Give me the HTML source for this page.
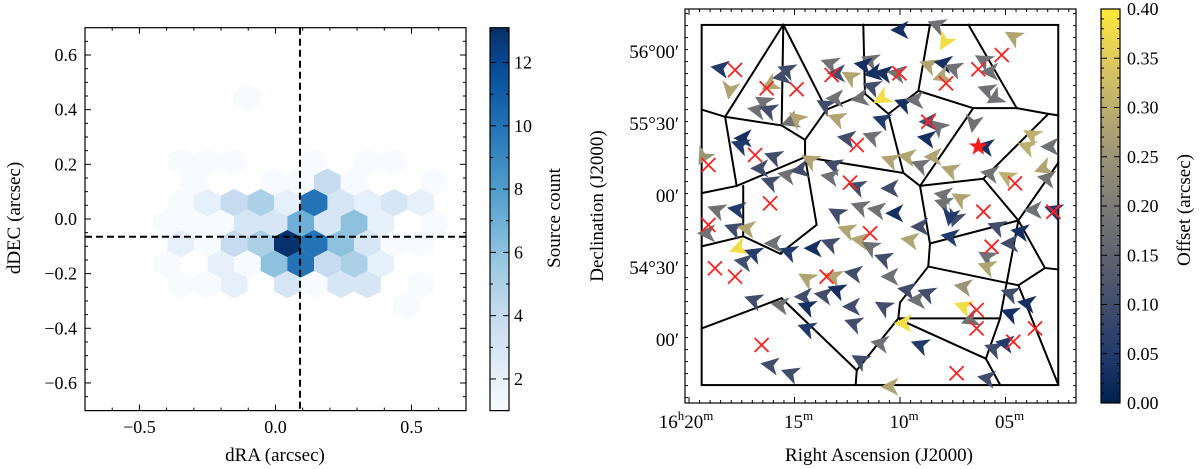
<!DOCTYPE html>
<html><head><meta charset="utf-8">
<style>
html,body{margin:0;padding:0;background:#fff;}
svg{display:block;font-family:"Liberation Serif","DejaVu Serif",serif;}
</style></head>
<body>
<svg id="fig" width="1200" height="469" viewBox="0 0 1200 469" xmlns="http://www.w3.org/2000/svg">
<defs>
<linearGradient id="blues" x1="0" y1="1" x2="0" y2="0">
<stop offset="0" stop-color="#f7fbff"/><stop offset="0.125" stop-color="#deebf7"/><stop offset="0.25" stop-color="#c6dbef"/><stop offset="0.375" stop-color="#9ecae1"/><stop offset="0.5" stop-color="#6baed6"/><stop offset="0.625" stop-color="#4292c6"/><stop offset="0.75" stop-color="#2171b5"/><stop offset="0.875" stop-color="#08519c"/><stop offset="1" stop-color="#08306b"/>
</linearGradient>
<linearGradient id="cividis" x1="0" y1="1" x2="0" y2="0">
<stop offset="0" stop-color="#00224e"/><stop offset="0.125" stop-color="#233a6c"/><stop offset="0.25" stop-color="#414d6b"/><stop offset="0.375" stop-color="#5f636e"/><stop offset="0.5" stop-color="#7c7b78"/><stop offset="0.625" stop-color="#9b9477"/><stop offset="0.75" stop-color="#bcaf6f"/><stop offset="0.875" stop-color="#dfcb5d"/><stop offset="1" stop-color="#fee838"/>
</linearGradient>
<clipPath id="clipL"><rect x="85" y="27.7" width="381" height="383"/></clipPath>
</defs>
<g id="left"></g>
<g id="right"></g>
</svg>
<script>
// ---------- LEFT PANEL DATA ----------
const hexX = [
 -0.348,-0.250,-0.152,-0.054,0.044,0.142,0.240,0.338,0.436,0.534,
 -0.397,-0.299,-0.201,-0.103,-0.005,0.093,0.191,0.289,0.387,0.583,
 -0.348,-0.250,-0.152,-0.054,0.044,0.142,0.240,0.338,0.436,0.534,
 -0.299,-0.005,0.093,0.191,0.289,0.583,
 -0.348,-0.250,-0.152,0.142,0.338,0.436,
 -0.103,
 -0.397,-0.201,-0.103,-0.005,0.093,0.191,0.289,0.387,
 -0.348,-0.250,-0.152,0.044,0.142,0.240,0.338,0.534,
 0.485];
const hexY = [
 -0.09,-0.09,-0.09,-0.09,-0.09,-0.09,-0.09,-0.09,-0.09,-0.09,
 -0.015,-0.015,-0.015,-0.015,-0.015,-0.015,-0.015,-0.015,-0.015,-0.015,
 0.06,0.06,0.06,0.06,0.06,0.06,0.06,0.06,0.06,0.06,
 0.135,0.135,0.135,0.135,0.135,0.135,
 0.21,0.21,0.21,0.21,0.21,0.21,
 0.44,
 -0.165,-0.165,-0.165,-0.165,-0.165,-0.165,-0.165,-0.165,
 -0.24,-0.24,-0.24,-0.24,-0.24,-0.24,-0.24,-0.24,
 -0.315];
const hexCount = [
 2,1,4,5,13,10,6,3,1,1,
 1,1,1,3,3,7,3,6,2,1,
 1,2,4,5,2,10,3,2,3,2,
 1,1,1,4,1,1,
 1,1,1,1,1,1,
 1,
 1,2,1,6,10,4,5,2,
 1,1,2,3,1,3,3,1,
 1];
const medianRA = 0.09, medianDEC = -0.065;
const leftXTicks = [-0.5,0.0,0.5];
const leftXTickLabels = ["\u22120.5","0.0","0.5"];
const leftYTicks = [0.6,0.4,0.2,0.0,-0.2,-0.4,-0.6];
const leftYTickLabels = ["0.6","0.4","0.2","0.0","\u22120.2","\u22120.4","\u22120.6"];
const countTicks = [2,4,6,8,10,12];
const countMin = 1, countMax = 13.1;

// ---------- RIGHT PANEL DATA (RA minutes past 16h, Dec degrees) ----------
const boxRA = [19.40, 2.50], boxDec = [56.188, 53.687];
const edgeRA1 = [15.53,15.53,15.53,11.74,11.66,11.66,8.58,9.13,9.13,6.76,6.53,4.47,2.97,6.53,2.97,6.05,6.05,10.55,9.84,9.84,13.48,14.50,15.61,14.50,18.29,18.29,14.50,17.74,17.74,17.43,17.43,15.69,15.69,15.61,15.61,12.05,13.95,10.00,10.00,10.08,10.08,8.66,8.58,8.58,8.66,4.39,3.13,3.13,4.39,4.39,5.26,5.93,5.93,10.00,4.39];
const edgeDec1 = [56.19,56.19,56.19,56.19,55.71,55.71,56.19,55.73,55.73,56.19,55.61,55.61,55.57,55.61,55.57,55.12,55.12,55.57,55.16,55.16,55.60,55.39,55.49,55.39,55.55,55.55,55.27,55.07,55.07,55.07,54.72,54.60,54.60,54.29,54.29,53.79,54.80,54.26,54.26,54.15,54.15,54.51,54.67,54.67,54.51,54.38,54.50,54.50,54.83,54.83,54.15,53.87,53.87,54.14,54.38];
const edgeRA2 = [18.29,15.61,13.48,11.66,13.48,10.55,9.13,10.55,6.53,4.47,4.47,2.97,2.50,9.05,6.05,9.05,4.39,9.84,9.05,14.50,14.50,15.61,18.29,14.50,19.40,17.74,13.95,14.50,19.40,17.43,19.40,17.43,15.61,19.40,12.05,12.10,15.69,8.66,10.08,12.05,5.26,8.58,9.05,4.39,4.39,3.13,2.50,4.39,2.50,5.26,5.93,5.26,5.93,5.93,2.50];
const edgeDec2 = [55.55,55.49,55.60,55.71,55.60,55.57,55.73,55.57,55.61,55.61,55.61,55.57,55.56,55.07,55.12,55.07,54.83,55.16,55.07,55.27,55.39,55.49,55.55,55.27,55.60,55.07,54.80,55.27,55.02,54.72,54.65,54.72,54.60,54.08,53.79,53.69,54.60,54.51,54.15,53.79,54.15,54.67,55.07,54.83,54.38,54.50,54.49,54.83,55.23,54.15,53.87,53.69,53.87,53.87,53.69];
const srcRA = [10.00,8.26,7.87,4.63,18.53,18.06,15.37,15.61,16.16,16.48,16.79,16.24,15.21,14.90,13.32,13.00,12.37,11.42,11.74,11.27,10.79,11.34,10.87,13.56,13.08,13.00,11.90,10.16,9.84,9.29,8.66,7.95,7.47,8.03,6.05,5.74,5.89,5.50,10.87,12.53,11.34,8.66,8.18,8.74,6.52,5.97,3.76,3.99,2.89,3.21,4.95,5.74,17.43,17.58,19.32,16.00,16.64,16.16,15.37,14.74,14.27,13.16,13.32,12.05,10.47,10.47,9.68,9.05,8.42,7.63,7.95,7.16,7.39,17.74,18.69,19.16,17.90,17.27,17.66,16.95,17.43,16.00,15.29,13.00,11.90,11.11,10.24,12.53,11.90,11.42,10.79,9.53,9.05,7.95,7.63,7.63,5.42,4.79,5.89,5.89,4.31,2.73,3.68,3.05,14.42,13.16,12.21,10.47,16.95,15.69,14.58,14.42,13.63,13.00,12.29,12.21,10.79,9.68,9.21,8.74,7.00,7.00,6.68,4.79,3.99,4.79,9.84,14.42,10.95,9.05,11.90,16.16,15.21,10.47,5.89,5.58,5.03,13.32,14.11];
const srcDec = [56.153,56.188,56.072,56.107,55.887,55.736,55.875,55.829,55.771,55.655,55.597,55.597,55.516,55.539,55.921,55.852,55.829,55.944,55.910,55.852,55.852,55.759,55.678,55.632,55.678,55.539,55.678,55.852,55.644,55.667,55.910,55.921,55.887,55.829,55.944,55.863,55.736,55.678,55.528,55.401,55.412,55.516,55.482,55.401,55.505,55.343,55.424,55.343,55.343,55.192,55.134,55.157,55.401,55.354,55.273,55.273,55.192,55.099,55.146,55.181,55.250,55.215,55.134,55.065,55.053,55.250,55.273,55.215,55.273,55.181,55.007,54.984,54.845,54.907,54.903,54.741,54.775,54.775,54.637,54.602,54.544,54.671,54.613,54.880,54.926,54.903,54.880,54.764,54.694,54.648,54.567,54.694,54.787,54.949,54.856,54.718,54.787,54.671,54.579,54.509,54.752,54.903,54.903,55.123,54.428,54.440,54.463,54.440,54.278,54.243,54.301,54.232,54.312,54.347,54.232,54.116,54.232,54.347,54.278,54.324,54.370,54.232,54.139,54.324,54.255,54.185,54.116,54.081,53.977,53.965,53.861,53.826,53.769,53.676,53.734,53.942,53.977,54.671,54.637];
const srcOffset = [0.03,0.18,0.38,0.28,0.05,0.28,0.10,0.10,0.28,0.18,0.18,0.10,0.18,0.28,0.18,0.10,0.28,0.18,0.03,0.03,0.03,0.10,0.38,0.10,0.18,0.28,0.18,0.18,0.03,0.18,0.28,0.03,0.18,0.28,0.18,0.18,0.18,0.18,0.05,0.10,0.18,0.10,0.18,0.03,0.18,0.03,0.30,0.30,0.18,0.28,0.30,0.18,0.03,0.05,0.25,0.10,0.10,0.10,0.18,0.10,0.28,0.10,0.18,0.10,0.10,0.28,0.28,0.18,0.28,0.28,0.18,0.28,0.10,0.05,0.18,0.18,0.10,0.28,0.38,0.05,0.10,0.18,0.05,0.10,0.18,0.18,0.03,0.28,0.28,0.18,0.10,0.28,0.10,0.18,0.05,0.05,0.10,0.10,0.18,0.28,0.03,0.05,0.18,0.18,0.28,0.28,0.10,0.18,0.10,0.18,0.10,0.03,0.10,0.03,0.10,0.10,0.10,0.10,0.18,0.10,0.25,0.38,0.18,0.10,0.03,0.03,0.38,0.05,0.18,0.05,0.10,0.10,0.10,0.28,0.10,0.10,0.05,0.10,0.03];
const srcAngle = [180,200,120,210,190,100,200,170,150,210,190,200,160,220,200,180,210,200,190,170,190,200,150,210,180,200,170,190,200,180,200,190,200,160,210,180,200,150,200,190,200,180,220,190,100,190,210,200,180,160,210,190,180,200,120,200,180,200,190,170,210,200,190,200,180,200,190,200,180,200,190,210,110,190,200,180,200,190,160,200,190,180,200,210,200,190,180,200,190,210,200,190,180,200,100,190,200,180,210,200,190,200,180,190,210,200,190,180,200,190,180,200,190,200,180,200,210,190,180,200,190,200,160,200,190,200,180,200,190,200,210,190,200,180,190,200,190,200,180];
const crossRA = [17.82,16.32,14.90,13.24,10.03,7.82,6.29,5.18,8.66,12.05,16.87,19.08,12.37,16.16,4.55,6.05,2.73,19.08,11.42,5.66,18.77,17.82,13.48,6.37,6.37,3.60,4.63,16.56,7.32];
const crossDec = [55.875,55.748,55.741,55.840,55.852,55.782,55.880,55.979,55.516,55.354,55.285,55.215,55.093,54.949,55.088,54.891,54.891,54.799,54.741,54.648,54.498,54.440,54.440,54.208,54.081,54.081,53.988,53.965,53.769];
const starRA = 6.29, starDec = 55.343;
const raTicks = [20,15,10,5];
const raTickLabels = [["16","h","20","m"],["","","15","m"],["","","10","m"],["","","05","m"]];
const decTicks = [56.0,55.5,55.0,54.5,54.0];
const decTickLabels = ["56\u00b000\u2032","55\u00b030\u2032","00\u2032","54\u00b030\u2032","00\u2032"];
const offTicks = [0.00,0.05,0.10,0.15,0.20,0.25,0.30,0.35,0.40];
const offMin = 0, offMax = 0.4;

// ---------- helpers ----------
const NS = "http://www.w3.org/2000/svg";
function mk(tag, attrs, parent){ const e=document.createElementNS(NS,tag); for(const k in attrs) e.setAttribute(k,attrs[k]); parent.appendChild(e); return e; }
function lerpHex(stops, t){
  t=Math.max(0,Math.min(1,t)); const n=stops.length-1; const i=Math.min(n-1,Math.floor(t*n)); const f=t*n-i;
  const a=stops[i], b=stops[i+1]; const c=[0,1,2].map(k=>Math.round(a[k]+(b[k]-a[k])*f)); return `rgb(${c[0]},${c[1]},${c[2]})`;
}
const BLUES=[[247,251,255],[222,235,247],[198,219,239],[158,202,225],[107,174,214],[66,146,198],[33,113,181],[8,81,156],[8,48,107]];
const CIV=[[0,34,78],[35,58,108],[65,77,107],[95,99,110],[124,123,120],[155,148,119],[188,175,111],[223,203,93],[254,232,56]];

// ---------- LEFT PANEL ----------
const L = document.getElementById('left');
const lx = v => 85 + (v+0.7)*272.1;
const ly = v => 55 - (v-0.6)*273.3;
const lframe = {x0:85,x1:466,y0:27.7,y1:410.6};
const hexG = mk('g',{'clip-path':'url(#clipL)'},L);


for(let i=0;i<hexX.length;i++){
  const cx=lx(hexX[i]), cy=ly(hexY[i]); const w=13.4, h=13.7;
  const pts=[[0,-h],[w,-h/2],[w,h/2],[0,h],[-w,h/2],[-w,-h/2]].map(p=>(cx+p[0]).toFixed(1)+','+(cy+p[1]).toFixed(1)).join(' ');
  const t=(hexCount[i]-countMin)/(countMax-countMin);
  const p=mk('polygon',{points:pts,fill:lerpHex(BLUES,t)},hexG);
  
  
}
const vline=mk('line',{x1:lx(medianRA),x2:lx(medianRA),y1:lframe.y0,y2:lframe.y1,stroke:'#000','stroke-width':2,'stroke-dasharray':'7,4'},L);


const hline=mk('line',{x1:lframe.x0,x2:lframe.x1,y1:ly(medianDEC),y2:ly(medianDEC),stroke:'#000','stroke-width':2,'stroke-dasharray':'7,4'},L);


const lf=mk('rect',{x:lframe.x0,y:lframe.y0,width:lframe.x1-lframe.x0,height:lframe.y1-lframe.y0,fill:'none',stroke:'#000','stroke-width':1.2},L);


for(let v=-6;v<=6;v++){ const x=lx(v/10); const len=(v%5===0)?6:3;
  mk('line',{x1:x,x2:x,y1:lframe.y1,y2:lframe.y1-len,stroke:'#000','stroke-width':1},L);
  mk('line',{x1:x,x2:x,y1:lframe.y0,y2:lframe.y0+len,stroke:'#000','stroke-width':1},L); }
for(let v=-13;v<=13;v++){ const y=ly(v*0.05); const len=(v%4===0)?6:3;
  mk('line',{x1:lframe.x0,x2:lframe.x0+len,y1:y,y2:y,stroke:'#000','stroke-width':1},L);
  mk('line',{x1:lframe.x1,x2:lframe.x1-len,y1:y,y2:y,stroke:'#000','stroke-width':1},L); }
leftXTicks.forEach((v,i)=>{ const t=mk('text',{x:lx(v),y:433,'text-anchor':'middle','font-size':18},L); t.textContent=leftXTickLabels[i];
    });
leftYTicks.forEach((v,i)=>{ const t=mk('text',{x:77,y:ly(v)+6,'text-anchor':'end','font-size':18},L); t.textContent=leftYTickLabels[i];
    });
let t=mk('text',{x:275,y:461,'text-anchor':'middle','font-size':19},L); t.textContent='dRA (arcsec)';
 
t=mk('text',{x:0,y:0,'text-anchor':'middle','font-size':19,transform:'translate(20,218) rotate(-90)'},L); t.textContent='dDEC (arcsec)';
 
const cb={x:490,w:19,y0:27.7,y1:410.6};
const cby=v=>cb.y1-(v-countMin)/(countMax-countMin)*(cb.y1-cb.y0);
let r=mk('rect',{x:cb.x,y:cb.y0,width:cb.w,height:cb.y1-cb.y0,fill:'url(#blues)',stroke:'#000','stroke-width':1.2},L);
 
for(let v=1;v<=13;v++){ const y=cby(v); const len=(v%2===0)?6:3;
  mk('line',{x1:cb.x+cb.w,x2:cb.x+cb.w-len,y1:y,y2:y,stroke:'#000','stroke-width':1},L);
  mk('line',{x1:cb.x,x2:cb.x+len,y1:y,y2:y,stroke:'#000','stroke-width':1},L); }
countTicks.forEach(v=>{ const tt=mk('text',{x:514,y:cby(v)+6,'font-size':18},L); tt.textContent=String(v);
    });
t=mk('text',{x:0,y:0,'text-anchor':'middle','font-size':19,transform:'translate(560,218) rotate(-90)'},L); t.textContent='Source count';
 

// ---------- RIGHT PANEL ----------
const R=document.getElementById('right');
const rx=ra=>689+(20-ra)*21.1;
const ry=dec=>52+(56-dec)*144;
const rf={x0:685,x1:1076,y0:9,y1:403};
const vb=mk('rect',{x:rx(boxRA[0]),y:ry(boxDec[0]),width:rx(boxRA[1])-rx(boxRA[0]),height:ry(boxDec[1])-ry(boxDec[0]),fill:'none',stroke:'#000','stroke-width':2},R);
 
const eg=mk('g',{stroke:'#000','stroke-width':2,'stroke-linecap':'round'},R);
 
for(let i=0;i<edgeRA1.length;i++){
  const l=mk('line',{x1:rx(edgeRA1[i]),y1:ry(edgeDec1[i]),x2:rx(edgeRA2[i]),y2:ry(edgeDec2[i])},eg);
   
}
const sg=mk('g',{},R);
 
for(let i=0;i<srcRA.length;i++){
  const p=mk('path',{d:'M7,0 L-6,-6.5 L-2.5,0 L-6,6.5 Z',fill:lerpHex(CIV,(srcOffset[i]-offMin)/(offMax-offMin)),
    transform:`translate(${rx(srcRA[i]).toFixed(1)},${ry(srcDec[i]).toFixed(1)}) rotate(${srcAngle[i]}) scale(1.4)`},sg);
   
}
const cg=mk('g',{stroke:'#ff2020','stroke-width':1.8},R);
 
for(let i=0;i<crossRA.length;i++){
  const x=rx(crossRA[i]), y=ry(crossDec[i]);
  const p=mk('path',{d:`M${x-7},${y-7}L${x+7},${y+7}M${x-7},${y+7}L${x+7},${y-7}`,fill:'none'},cg);
   
}
(function(){ const cx=rx(starRA), cy=ry(starDec); let pts=[];
  for(let k=0;k<10;k++){ const a=-Math.PI/2+k*Math.PI/5; const rr=k%2?4:10; pts.push((cx+rr*Math.cos(a)).toFixed(1)+','+(cy+rr*Math.sin(a)).toFixed(1)); }
  const s=mk('polygon',{points:pts.join(' '),fill:'#ff1a1a'},R);
    })();
const rfr=mk('rect',{x:rf.x0,y:rf.y0,width:rf.x1-rf.x0,height:rf.y1-rf.y0,fill:'none',stroke:'#000','stroke-width':1.2},R);
 
for(let m=20;m>=2;m-=0.5){ const x=rx(m); if(x<rf.x0||x>rf.x1) continue; const len=(m%5===0)?6:3;
  mk('line',{x1:x,x2:x,y1:rf.y1,y2:rf.y1-len,stroke:'#000','stroke-width':1},R);
  mk('line',{x1:x,x2:x,y1:rf.y0,y2:rf.y0+len,stroke:'#000','stroke-width':1},R); }
for(let k=0;k<=35;k++){ const dec=53.6+k*5/60; const y=ry(dec); if(y<rf.y0||y>rf.y1) continue;
  const len=(Math.abs(dec*2-Math.round(dec*2))<0.001)?6:3;
  mk('line',{x1:rf.x0,x2:rf.x0+len,y1:y,y2:y,stroke:'#000','stroke-width':1},R);
  mk('line',{x1:rf.x1,x2:rf.x1-len,y1:y,y2:y,stroke:'#000','stroke-width':1},R); }
raTicks.forEach((v,i)=>{ const lab=raTickLabels[i];
  const tt=mk('text',{x:rx(v)+(i===0?-3:4),y:428,'text-anchor':'middle','font-size':19},R);
  if(lab[0]){ const a=mk('tspan',{},tt); a.textContent=lab[0]; const b=mk('tspan',{'font-size':13,dy:-8},tt); b.textContent=lab[1]; const c=mk('tspan',{dy:8},tt); c.textContent=lab[2]; }
  else { const c=mk('tspan',{},tt); c.textContent=lab[2]; }
  const d=mk('tspan',{'font-size':13,dy:-8},tt); d.textContent=lab[3];
    });
decTicks.forEach((v,i)=>{ const tt=mk('text',{x:679,y:ry(v)+6,'text-anchor':'end','font-size':19},R); tt.textContent=decTickLabels[i];
    });
t=mk('text',{x:879,y:461,'text-anchor':'middle','font-size':19},R); t.textContent='Right Ascension (J2000)';
 
t=mk('text',{x:0,y:0,'text-anchor':'middle','font-size':19,transform:'translate(603,206) rotate(-90)'},R); t.textContent='Declination (J2000)';
 
const ob={x:1101,w:19,y0:9,y1:403};
const oby=v=>ob.y1-(v-offMin)/(offMax-offMin)*(ob.y1-ob.y0);
r=mk('rect',{x:ob.x,y:ob.y0,width:ob.w,height:ob.y1-ob.y0,fill:'url(#cividis)',stroke:'#000','stroke-width':1.2},R);
 
for(let k=0;k<=40;k++){ const y=oby(k/100); const len=(k%5===0)?6:3;
  mk('line',{x1:ob.x+ob.w,x2:ob.x+ob.w-len,y1:y,y2:y,stroke:'#000','stroke-width':1},R);
  mk('line',{x1:ob.x,x2:ob.x+len,y1:y,y2:y,stroke:'#000','stroke-width':1},R); }
offTicks.forEach(v=>{ const tt=mk('text',{x:1127,y:oby(v)+6,'font-size':18},R); tt.textContent=v.toFixed(2);
    });
t=mk('text',{x:0,y:0,'text-anchor':'middle','font-size':19,transform:'translate(1190,210) rotate(-90)'},R); t.textContent='Offset (arcsec)';
 
</script>
</body></html>
